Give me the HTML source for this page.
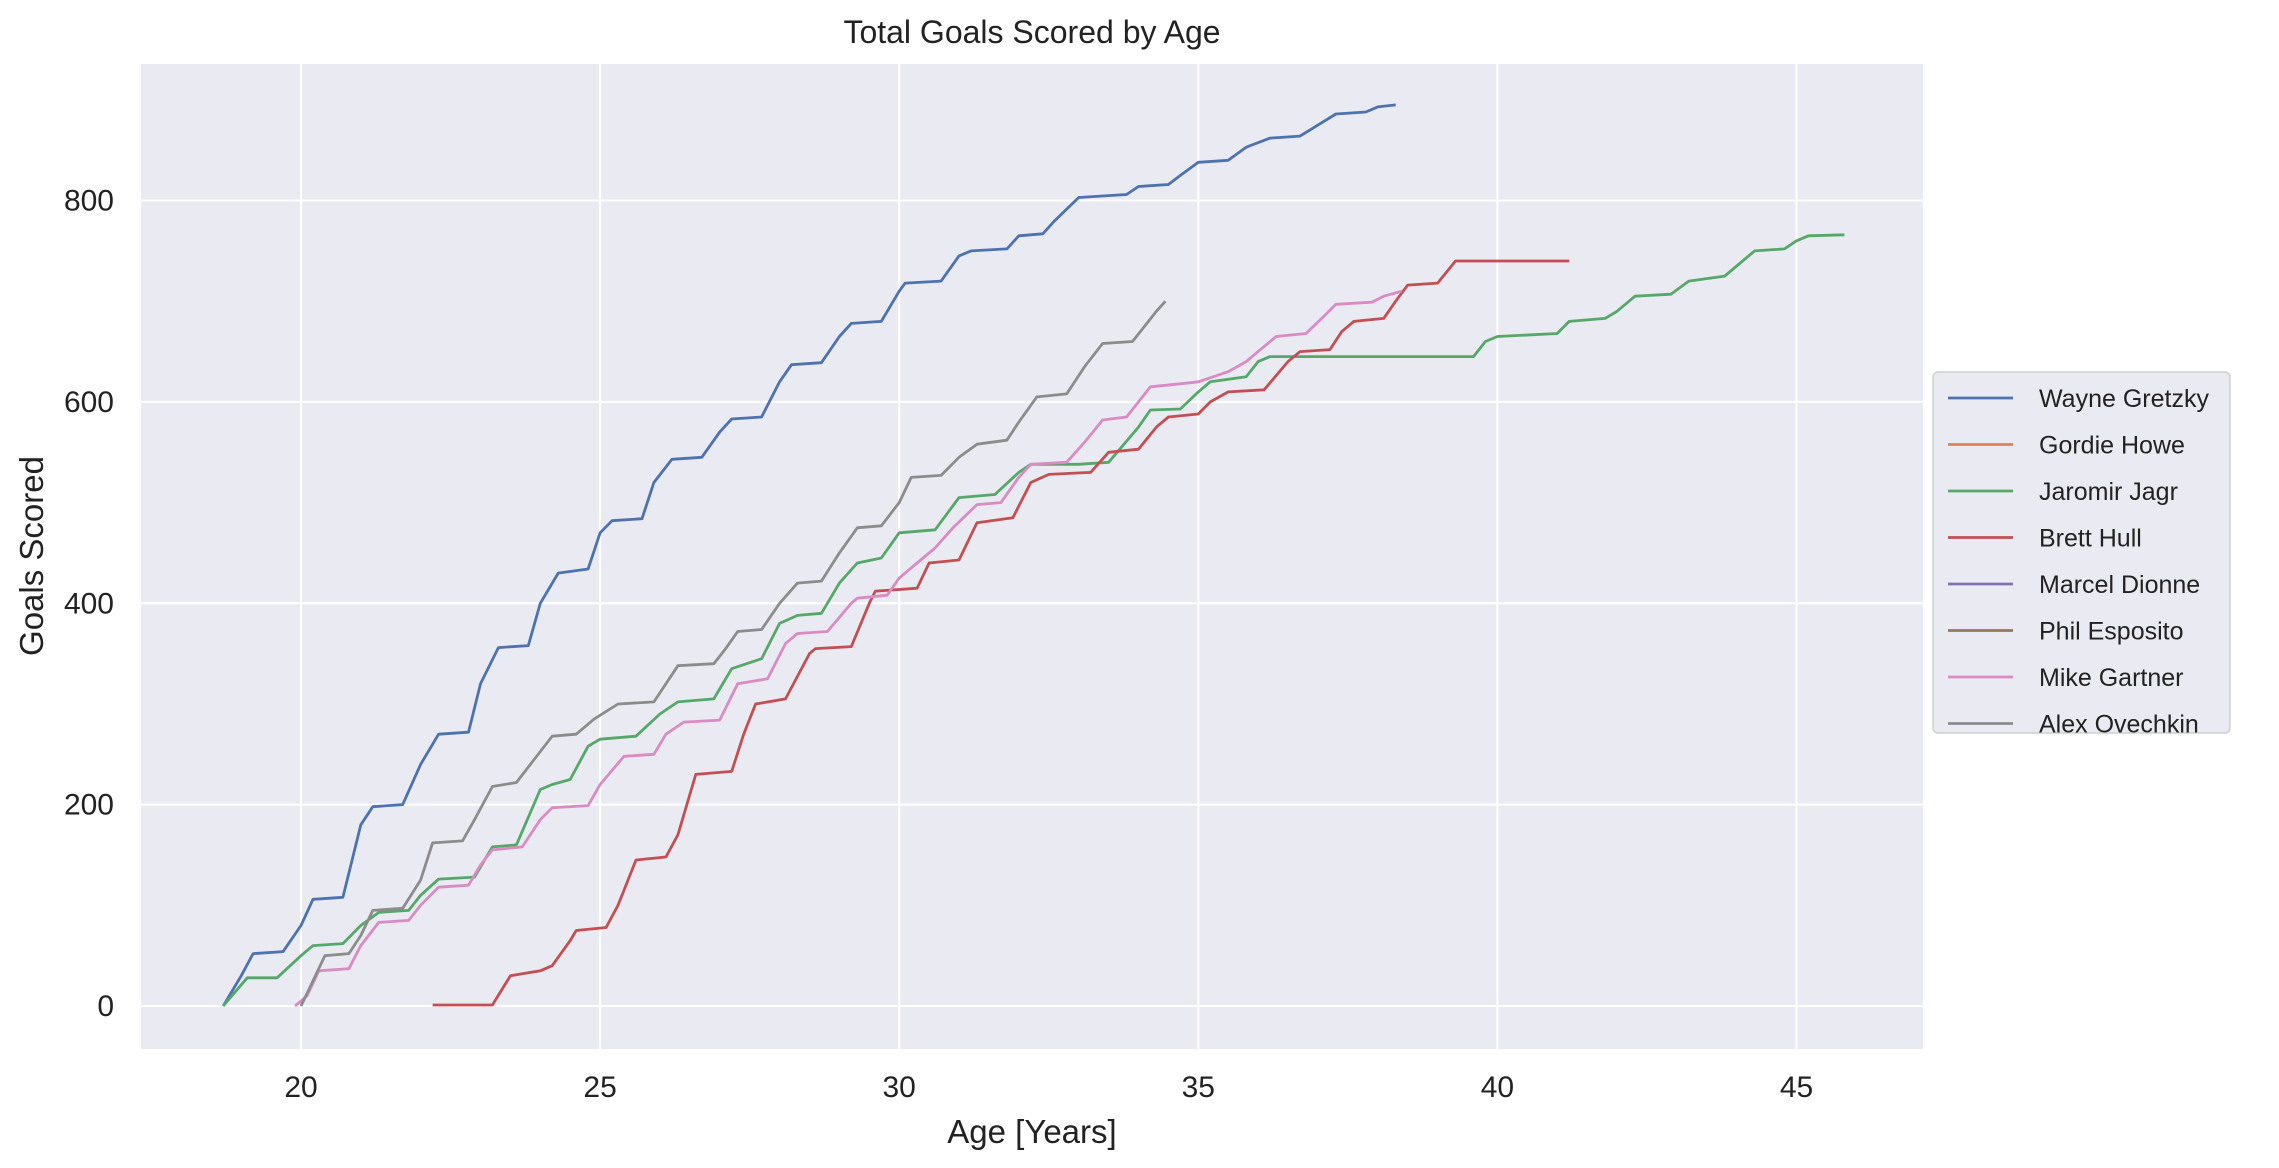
<!DOCTYPE html>
<html><head><meta charset="utf-8"><style>
html,body{margin:0;padding:0;background:#fff;}
svg{display:block;font-family:"Liberation Sans",sans-serif;}
</style></head><body>
<svg id="chart" width="2279" height="1168" viewBox="0 0 2279 1168">
<rect x="0" y="0" width="2279" height="1168" fill="#fff"/>
<rect x="141" y="64" width="1782" height="985" fill="#eaeaf2"/>
<g id="grid"></g><g id="series"></g><g id="ticks"></g>
<text x="1032" y="43" font-size="32" text-anchor="middle" fill="#222">Total Goals Scored by Age</text>
<text x="1032" y="1143" font-size="33" text-anchor="middle" fill="#222">Age [Years]</text>
<text transform="translate(43,556) rotate(-90)" font-size="33" text-anchor="middle" fill="#222">Goals Scored</text>
<g id="legend"></g>
</svg>
<script>
const xTicks=[20,25,30,35,40,45];
const yTicks=[0,200,400,600,800];
const names=["Wayne Gretzky","Gordie Howe","Jaromir Jagr","Brett Hull","Marcel Dionne","Phil Esposito","Mike Gartner","Alex Ovechkin"];
const colors=["#4c72b0","#dd8452","#55a868","#c44e52","#8172b3","#937860","#da8bc3","#8c8c8c"];
const gretzky=[[18.7,0],[19.0,30],[19.2,52],[19.7,54],[20.0,80],[20.2,106],[20.7,108],[21.0,180],[21.2,198],[21.7,200],[22.0,240],[22.3,270],[22.8,272],[23.0,320],[23.3,356],[23.8,358],[24.0,400],[24.3,430],[24.8,434],[25.0,470],[25.2,482],[25.7,484],[25.9,520],[26.2,543],[26.7,545],[27.0,570],[27.2,583],[27.7,585],[28.0,620],[28.2,637],[28.7,639],[29.0,665],[29.2,678],[29.7,680],[30.0,710],[30.1,718],[30.7,720],[31.0,745],[31.2,750],[31.8,752],[32.0,765],[32.4,767],[32.6,780],[33.0,803],[33.8,806],[34.0,814],[34.5,816],[34.7,825],[35.0,838],[35.5,840],[35.8,853],[36.2,862],[36.7,864],[37.0,875],[37.3,886],[37.8,888],[38.0,893],[38.3,895]];
const howe=[];
const jagr=[[18.7,0],[19.1,28],[19.6,28],[20.0,50],[20.2,60],[20.7,62],[21.0,80],[21.3,93],[21.8,95],[22.0,110],[22.3,126],[22.9,128],[23.2,158],[23.6,160],[24.0,215],[24.2,220],[24.5,225],[24.8,258],[25.0,265],[25.6,268],[26.0,290],[26.3,302],[26.9,305],[27.2,335],[27.7,345],[28.0,380],[28.3,388],[28.7,390],[29.0,420],[29.3,440],[29.7,445],[30.0,470],[30.6,473],[31.0,505],[31.6,508],[32.0,530],[32.2,538],[33.0,538],[33.5,540],[34.0,575],[34.2,592],[34.7,593],[35.0,610],[35.2,620],[35.8,625],[36.0,640],[36.2,645],[39.6,645],[39.8,660],[40.0,665],[41.0,668],[41.2,680],[41.8,683],[42.0,690],[42.3,705],[42.9,707],[43.2,720],[43.8,725],[44.0,735],[44.3,750],[44.8,752],[45.0,760],[45.2,765],[45.8,766]];
const hull=[[22.2,1],[23.2,1],[23.5,30],[24.0,35],[24.2,40],[24.5,65],[24.6,75],[25.1,78],[25.3,100],[25.6,145],[26.1,148],[26.3,170],[26.6,230],[27.2,233],[27.4,270],[27.6,300],[28.1,305],[28.5,350],[28.6,355],[29.2,357],[29.5,400],[29.6,412],[30.3,415],[30.5,440],[31.0,443],[31.3,480],[31.9,485],[32.2,520],[32.5,528],[33.2,530],[33.5,550],[34.0,553],[34.3,575],[34.5,585],[35.0,588],[35.2,600],[35.5,610],[36.1,612],[36.5,640],[36.7,650],[37.2,652],[37.4,670],[37.6,680],[38.1,683],[38.3,700],[38.5,716],[39.0,718],[39.3,740],[41.2,740]];
const dionne=[];
const esposito=[];
const gartner=[[19.9,0],[20.1,10],[20.3,35],[20.8,37],[21.0,60],[21.3,83],[21.8,85],[22.0,100],[22.3,118],[22.8,120],[23.0,140],[23.2,155],[23.7,158],[24.0,185],[24.2,197],[24.8,199],[25.0,220],[25.4,248],[25.9,250],[26.1,270],[26.4,282],[27.0,284],[27.3,320],[27.8,325],[28.1,360],[28.3,370],[28.8,372],[29.2,400],[29.3,405],[29.8,408],[30.0,425],[30.3,440],[30.6,455],[30.9,475],[31.3,498],[31.7,500],[32.0,525],[32.2,538],[32.8,540],[33.1,560],[33.4,582],[33.8,585],[34.0,600],[34.2,615],[34.7,618],[35.0,620],[35.5,630],[35.8,640],[36.0,650],[36.3,665],[36.8,668],[37.1,685],[37.3,697],[37.9,699],[38.1,705],[38.4,710]];
const ovechkin=[[20.0,0],[20.2,25],[20.4,50],[20.8,52],[21.0,70],[21.2,95],[21.7,97],[22.0,125],[22.2,162],[22.7,164],[22.9,185],[23.2,218],[23.6,222],[23.9,245],[24.2,268],[24.6,270],[24.9,285],[25.3,300],[25.9,302],[26.1,320],[26.3,338],[26.9,340],[27.1,355],[27.3,372],[27.7,374],[28.0,400],[28.3,420],[28.7,422],[29.0,450],[29.3,475],[29.7,477],[30.0,500],[30.2,525],[30.7,527],[31.0,545],[31.3,558],[31.8,562],[32.0,580],[32.3,605],[32.8,608],[33.1,635],[33.4,658],[33.9,660],[34.1,675],[34.3,690],[34.45,700]];
const seriesData=[gretzky,howe,jagr,hull,dionne,esposito,gartner,ovechkin];

const NS="http://www.w3.org/2000/svg";
const X0=141,X1=1923,Y0=64,Y1=1049;
function xs(v){return 301+(v-20)*59.82;}
function ys(v){return 1006-v*1.0068;}
function mk(tag,attrs,parent){const e=document.createElementNS(NS,tag);for(const k in attrs)e.setAttribute(k,attrs[k]);parent.appendChild(e);return e;}
const grid=document.getElementById('grid'),ticks=document.getElementById('ticks');
xTicks.forEach(t=>{
  const l=mk('line',{x1:xs(t),x2:xs(t),y1:Y0,y2:Y1,stroke:'#fff','stroke-width':2},grid);
  
  
  const tx=mk('text',{x:xs(t),y:1097,'font-size':30,'text-anchor':'middle',fill:'#222'},ticks);
  tx.textContent=t;
  
  
});
yTicks.forEach(t=>{
  const l=mk('line',{x1:X0,x2:X1,y1:ys(t),y2:ys(t),stroke:'#fff','stroke-width':2},grid);
  
  
  const tx=mk('text',{x:114,y:ys(t)+10,'font-size':30,'text-anchor':'end',fill:'#222'},ticks);
  tx.textContent=t;
  
  
});
const sg=document.getElementById('series');
seriesData.forEach((d,i)=>{
  if(!d.length)return;
  const p=mk('polyline',{points:d.map(q=>xs(q[0]).toFixed(1)+','+ys(q[1]).toFixed(1)).join(' '),fill:'none',stroke:colors[i],'stroke-width':2.8,'stroke-linejoin':'round'},sg);
  
  
});
const lg=document.getElementById('legend');
mk('rect',{x:1933,y:372,width:297,height:361,rx:5,fill:'#eaeaf2',stroke:'#d0d0d0','stroke-width':1.5},lg);
names.forEach((n,i)=>{
  const y=398+i*46.5;
  const l=mk('line',{x1:1948,x2:2013,y1:y,y2:y,stroke:colors[i],'stroke-width':2.8},lg);
  
  
  const t=mk('text',{x:2039,y:y+9,'font-size':25,fill:'#222'},lg);
  t.textContent=n;
  
  
});
</script>
</body></html>
